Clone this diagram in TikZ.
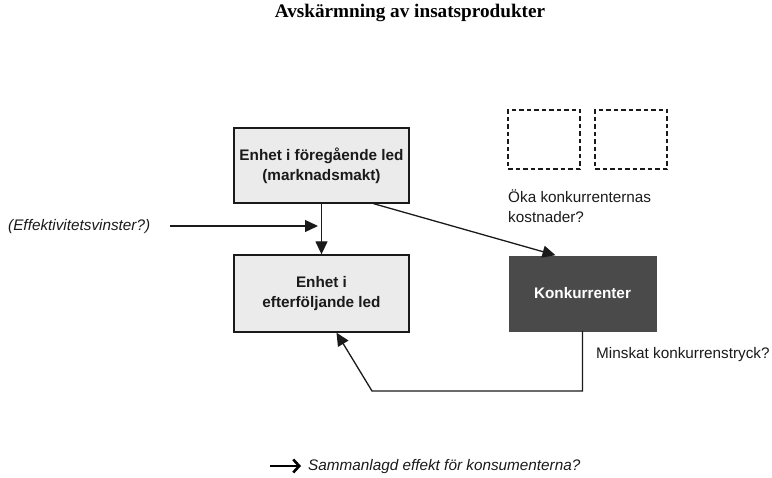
\documentclass[tikz,border=0pt]{standalone}
\usepackage{fontspec}
\setmainfont{Liberation Sans}
\newfontfamily\titlefont{Liberation Serif}
\usetikzlibrary{arrows.meta,calc}

\definecolor{boxfill}{HTML}{EBEBEB}
\definecolor{darkfill}{HTML}{4A4A4A}
\definecolor{ink}{HTML}{1A1A1A}

\tikzset{
  unitbox/.style={draw=ink, line width=1.3pt, fill=boxfill, inner sep=0pt,
    align=center, text=ink, font=\bfseries\fontsize{15.3}{20}\selectfont},
  rivalbox/.style={draw=darkfill, fill=darkfill, inner sep=0pt,
    align=center, text=white, font=\bfseries\fontsize{15.3}{20}\selectfont},
  ghostbox/.style={draw=ink, line width=1.3pt, dash pattern=on 4.5pt off 3pt,
    inner sep=0pt, minimum width=72pt, minimum height=59pt},
  note/.style={inner sep=0pt, text=ink, font=\fontsize{15.3}{20}\selectfont},
  flow/.style={draw=ink, line width=1.3pt, -{Triangle[length=13pt,width=12pt]}},
  keyarrow/.style={draw=black, line width=2.6pt, -{Straight Barb[length=6pt,width=13pt]}}
}

\begin{document}
\begin{tikzpicture}[x=1pt,y=-1pt]
\useasboundingbox (0,0) rectangle (772,478);

% heading
\node[anchor=base, inner sep=0pt, font=\titlefont\bfseries\fontsize{19.2}{22}\selectfont]
  (title) at (410,18) {Avskärmning av insatsprodukter};

% firms
\node[unitbox, minimum width=175pt, minimum height=75pt] (up) at (321.5,165.5)
  {Enhet i föregående led\\(marknadsmakt)};
\node[unitbox, minimum width=175pt, minimum height=77pt] (down) at (321.5,293.5)
  {Enhet i\\efterföljande led};
\node[rivalbox, minimum width=147pt, minimum height=75pt] (rival) at (582.5,293.5)
  {Konkurrenter};

% outside rivals
\node[ghostbox] (g1) at (544,139.5) {};
\node[ghostbox] (g2) at (631,139.5) {};

% labels
\node[note, anchor=north west, align=left] (cost) at (508,189)
  {Öka konkurrenternas\\kostnader?};
\node[note, anchor=base west] (press) at (596,359) {Minskat konkurrenstryck?};
\node[note, anchor=base west, font=\itshape\fontsize{15.3}{20}\selectfont] (eff) at (8,231)
  {(Effektivitetsvinster?)};

% connectors
\coordinate (effA) at (170,226);
\coordinate (effB) at (318,226);
\draw[flow] (effA) -- (effB);

\draw[flow] (up.south) -- (down.north);

\coordinate (upOut) at ($(up.south west)!0.795!(up.south east)$);
\coordinate (rivalIn) at ($(rival.north west)!0.33!(rival.north east)$);
\draw[flow, shorten >=2pt] (upOut) -- (rivalIn);

\coordinate (bend) at (372,391);
\coordinate (downIn) at ($(down.south west)!0.585!(down.south east)$);
\draw[flow] (rival.south) |- (bend) -- (downIn);

% key
\coordinate (keyA) at (270,466);
\coordinate (keyB) at (301,466);
\draw[keyarrow] (keyA) -- (keyB);
\node[note, anchor=base west, font=\itshape\fontsize{15.3}{20}\selectfont] (keytext) at (308,471)
  {Sammanlagd effekt för konsumenterna?};
\end{tikzpicture}
\end{document}
